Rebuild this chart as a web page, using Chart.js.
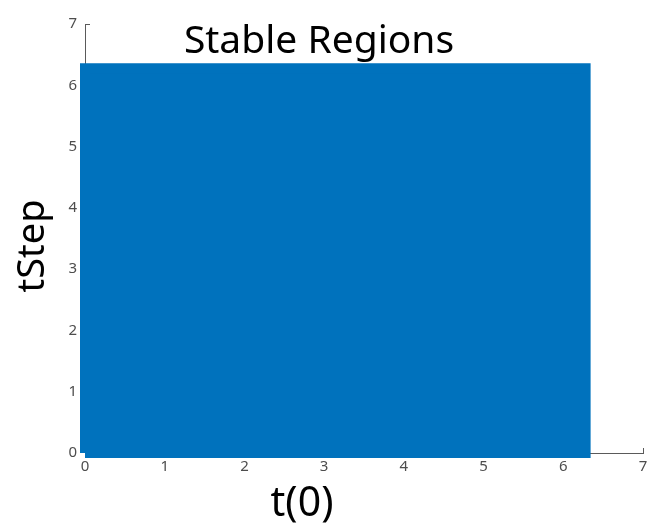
<!DOCTYPE html>
<html>
<head>
<meta charset="utf-8">
<script src="https://cdn.jsdelivr.net/npm/chart.js@4/dist/chart.umd.min.js"></script>
<style>
  html, body { margin: 0; padding: 0; background: #ffffff; }
  #wrap { width: 647px; height: 529px; }
</style>
</head>
<body>
<div id="wrap"><canvas id="c" width="647" height="529"></canvas></div>
<script>
// ---- data ----
const chartTitle = "Stable Regions";
const xLabel = "t(0)";
const yLabel = "tStep";
// corners of the stable (filled) region, traced in order
const regionT0    = [0, 6.28, 6.28, 0, 0];
const regionTStep = [0, 0, 6.28, 6.28, 0];
const xTicks = [0, 1, 2, 3, 4, 5, 6, 7];
const yTicks = [0, 1, 2, 3, 4, 5, 6, 7];

const BLUE = "rgb(0,114,189)";
const AXIS = "#5a5a5a";
const TICKTXT = "#4d4d4d";

const regionPoints = regionT0.map((x, i) => ({ x: x, y: regionTStep[i] }));

const innerTicks = {
  id: "innerTicks",
  beforeDatasetsDraw(chart) {
    const { ctx, scales: { x, y } } = chart;
    ctx.save();
    ctx.strokeStyle = AXIS;
    ctx.lineWidth = 1;
    ctx.beginPath();
    xTicks.forEach(v => {
      const px = Math.round(x.getPixelForValue(v)) + 0.5;
      ctx.moveTo(px, y.bottom);
      ctx.lineTo(px, y.bottom - 5);
    });
    yTicks.forEach(v => {
      const py = Math.round(y.getPixelForValue(v)) + 0.5;
      ctx.moveTo(x.left, py);
      ctx.lineTo(x.left + 5, py);
    });
    ctx.stroke();
    ctx.restore();
  }
};

const labelsPlugin = {
  id: "labelsPlugin",
  afterDraw(chart) {
    const { ctx } = chart;
    ctx.save();
    ctx.fillStyle = "#000000";
    ctx.textAlign = "center";
    ctx.textBaseline = "alphabetic";
    ctx.font = "39px 'Noto Sans'";
    ctx.fillText(chartTitle, 319, 53);
    ctx.font = "41px 'Noto Sans'";
    ctx.textBaseline = "middle";
    ctx.fillText(xLabel, 302, 504);
    ctx.translate(33, 246);
    ctx.rotate(-Math.PI / 2);
    ctx.font = "38px 'Noto Sans'";
    ctx.fillText(yLabel, 0, 0);
    ctx.restore();
  }
};

new Chart(document.getElementById("c"), {
  type: "scatter",
  data: {
    datasets: [{
      label: "stable",
      data: regionPoints,
      showLine: true,
      fill: "shape",
      backgroundColor: BLUE,
      borderColor: BLUE,
      borderWidth: 10,
      borderJoinStyle: "miter",
      pointRadius: 0,
      tension: 0,
      clip: false
    }]
  },
  options: {
    responsive: false,
    animation: false,
    layout: { padding: { left: 0, top: 24, right: 4, bottom: 0 } },
    plugins: {
      legend: { display: false },
      title: { display: false },
      tooltip: { enabled: false }
    },
    scales: {
      x: {
        type: "linear",
        min: 0, max: 7,
        afterFit(scale) { scale.height = 76; scale.paddingRight = 0; scale.paddingLeft = 0; },
        afterBuildTicks(scale) { scale.ticks = xTicks.map(v => ({ value: v })); },
        grid: { display: false, drawTicks: false },
        border: { display: true, color: AXIS, width: 1 },
        ticks: { padding: 5, color: TICKTXT, font: { family: "'Noto Sans'", size: 15 } }
      },
      y: {
        type: "linear",
        min: 0, max: 7,
        afterFit(scale) { scale.width = 85; scale.paddingTop = 0; scale.paddingBottom = 0; },
        afterBuildTicks(scale) { scale.ticks = yTicks.map(v => ({ value: v })); },
        grid: { display: false, drawTicks: false },
        border: { display: true, color: AXIS, width: 1 },
        ticks: { padding: 8, color: TICKTXT, font: { family: "'Noto Sans'", size: 15 } }
      }
    }
  },
  plugins: [innerTicks, labelsPlugin]
});
</script>
</body>
</html>
